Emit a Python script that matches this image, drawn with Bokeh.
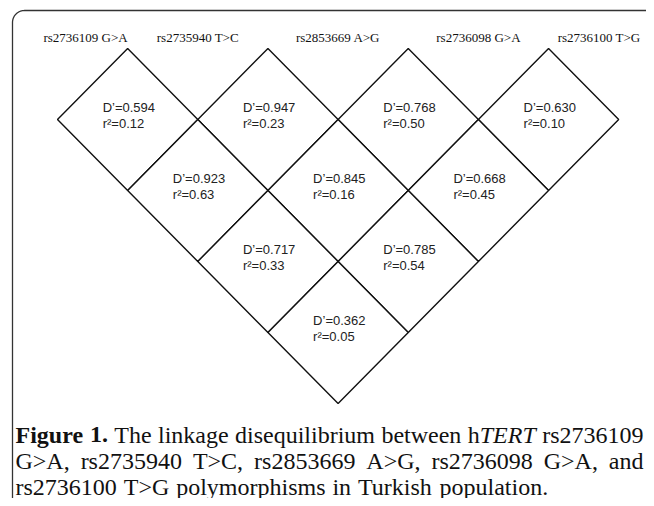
import numpy as np
from bokeh.plotting import figure
from bokeh.models import Range1d, ColumnDataSource
from bokeh.core.properties import value
from bokeh.embed import file_html
from bokeh.resources import INLINE

# ---------------- data ----------------
snp_labels = ["rs2736109 G>A", "rs2735940 T>C", "rs2853669 A>G",
              "rs2736098 G>A", "rs2736100 T>G"]
pair_i = [0, 1, 2, 3, 0, 1, 2, 0, 1, 0]
pair_j = [1, 2, 3, 4, 2, 3, 4, 3, 4, 4]
d_prime = ["0.594", "0.947", "0.768", "0.630", "0.923", "0.845", "0.668",
           "0.717", "0.785", "0.362"]
r_sq = ["0.12", "0.23", "0.50", "0.10", "0.63", "0.16", "0.45",
        "0.33", "0.54", "0.05"]

# ---------------- layout helpers ----------------
X0, SX = 57.0, 140.3    # px of SNP 0, px per SNP step
Y0, SY = 48.0, 142.0    # px of top vertex row, px per unit depth


def X(px):
    return (np.asarray(px, dtype=float) - X0) / SX


def Y(py):
    return (np.asarray(py, dtype=float) - Y0) / SY


W, H = 646, 498
p = figure(width=W, height=H, output_backend="svg", toolbar_location=None,
           x_range=Range1d(float(X(0)), float(X(W))),
           y_range=Range1d(float(Y(H)), float(Y(0))),
           min_border=0)
p.axis.visible = False
p.grid.visible = False
p.outline_line_color = None
p.background_fill_color = "white"
p.border_fill_color = "white"

# rounded frame (left + top edges)
th1 = np.linspace(np.pi, 1.5 * np.pi, 20)
r = 12.0
fx = np.concatenate([[700], 24 + r * np.cos(th1)[::-1], [12]])
fy = np.concatenate([[10], 22 + r * np.sin(th1)[::-1], [600]])
p.line(X(fx), Y(fy), line_color="#333333", line_width=1.3)

# ---------------- diamonds ----------------
ci = np.array(pair_i, dtype=float)
cj = np.array(pair_j, dtype=float)
cx = (ci + cj) / 2
cy = (cj - ci) / 2
xs = [[x - 0.5, x, x + 0.5, x] for x in cx]
ys = [[y, y - 0.5, y, y + 0.5] for y in cy]
src = ColumnDataSource(dict(xs=xs, ys=ys, cx=cx, cy=cy,
                            d=["D\u2019=" + v for v in d_prime],
                            r=["r\u00b2=" + v for v in r_sq]))
p.patches("xs", "ys", source=src, fill_color="white", line_color="#111111",
          line_width=1.4)
p.text("cx", "cy", text="d", source=src, x_offset=-25, y_offset=-12,
       text_font=value("Liberation Sans"), text_font_size="13px",
       text_color="#222222", text_align="left", text_baseline="middle")
p.text("cx", "cy", text="r", source=src, x_offset=-25, y_offset=4,
       text_font=value("Liberation Sans"), text_font_size="13px",
       text_color="#222222", text_align="left", text_baseline="middle")

# SNP labels above the triangle
snp_pos = np.arange(len(snp_labels), dtype=float)
label_x = np.clip(snp_pos, 0.2, 3.86)
p.text(label_x, np.full(len(snp_labels), float(Y(37))), text=snp_labels,
       text_font=value("Liberation Serif"), text_font_size="13px",
       text_color="#111111", text_align="center", text_baseline="middle")

# ---------------- caption ----------------
REG = {' ': 250, ',': 250, '.': 250, '>': 564, 'A': 722, 'C': 667, 'G': 722,
       'T': 611, 'a': 444, 'b': 500, 'd': 500, 'e': 444, 'g': 500, 'h': 500,
       'i': 278, 'k': 500, 'l': 278, 'm': 778, 'n': 500, 'o': 500, 'p': 500,
       'q': 500, 'r': 333, 's': 389, 't': 278, 'u': 500, 'w': 722, 'y': 500}
BOLD = {'F': 611, 'i': 278, 'g': 500, 'u': 556, 'r': 444, 'e': 444,
        ' ': 250, '.': 250}
ITAL = {'T': 556, 'E': 611, 'R': 611}
FS = 24


def width(s, style):
    tab = {"normal": REG, "bold": BOLD, "italic": ITAL}[style]
    return sum(tab.get(c, 500) for c in s) * FS / 1000.0


# each word = list of (piece, style)
line1 = [[("Figure", "bold")], [("1.", "bold")], [("The", "normal")],
         [("linkage", "normal")], [("disequilibrium", "normal")],
         [("between", "normal")], [("h", "normal"), ("TERT", "italic")],
         [("rs2736109", "normal")]]
line2 = [[(w, "normal")] for w in
         "G>A, rs2735940 T>C, rs2853669 A>G, rs2736098 G>A, and".split()]
line3 = [[(w, "normal")] for w in
         "rs2736100 T>G polymorphisms in Turkish population.".split()]

LEFT, RIGHT = 15.0, 643.0
pieces = {"normal": ([], [], []), "bold": ([], [], []), "italic": ([], [], [])}


def place(words, base, justify):
    wid = [sum(width(s, st) for s, st in w) for w in words]
    if justify:
        gap = (RIGHT - LEFT - sum(wid)) / (len(words) - 1)
    else:
        gap = width(" ", "normal") * 1.15
    x = LEFT
    for w, ww in zip(words, wid):
        xx = x
        for s, st in w:
            pieces[st][0].append(xx)
            pieces[st][1].append(base)
            pieces[st][2].append(s)
            xx += width(s, st)
        x += ww + gap


place(line1, 434, True)
place(line2, 460, True)
place(line3, 486, False)

for st, (px_, py_, tx) in pieces.items():
    p.text(X(px_), Y(py_), text=tx, text_font=value("Liberation Serif"),
           text_font_size=f"{FS}px", text_font_style=st, text_color="#111111",
           text_align="left", text_baseline="alphabetic")

open("out.html", "w").write(file_html(p, INLINE))
